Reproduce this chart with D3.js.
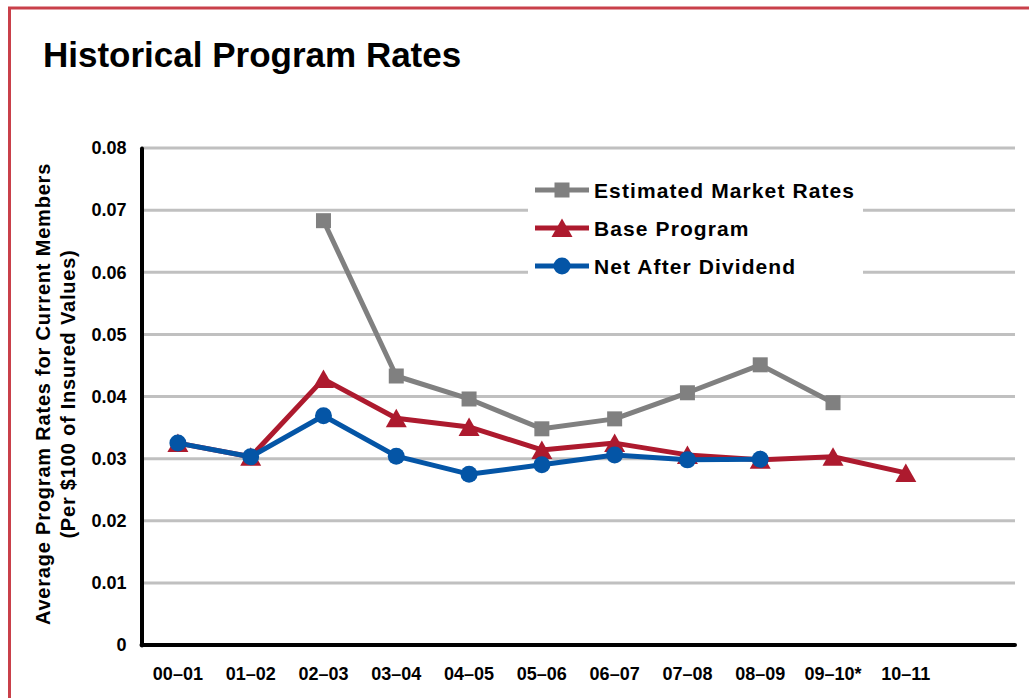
<!DOCTYPE html>
<html>
<head>
<meta charset="utf-8">
<script src="https://cdn.jsdelivr.net/npm/d3@7"></script>
<style>
  body { margin: 0; background: #fff; }
  svg { display: block; font-family: "Liberation Sans", Arial, sans-serif; }
</style>
</head>
<body>
<svg width="1029" height="698"></svg>
<script>
const categories = ["00–01", "01–02", "02–03", "03–04", "04–05", "05–06", "06–07", "07–08", "08–09", "09–10*", "10–11"]
const marketRates = [null, null, 0.0683, 0.0433, 0.0396, 0.0348, 0.0364, 0.0406, 0.0451, 0.0390, null]
const baseProgram = [0.0325, 0.0303, 0.0428, 0.0365, 0.0351, 0.0314, 0.0325, 0.0306, 0.0298, 0.0303, 0.0277]
const netAfterDividend = [0.0325, 0.0303, 0.0369, 0.0304, 0.0275, 0.0290, 0.0306, 0.0298, 0.0299, null, null]
const yTicks = [0, 0.01, 0.02, 0.03, 0.04, 0.05, 0.06, 0.07, 0.08]
const seriesNames = ["Estimated Market Rates", "Base Program", "Net After Dividend"]

const series = [
  { name: seriesNames[0], values: marketRates, color: "#808080", marker: "square" },
  { name: seriesNames[1], values: baseProgram, color: "#ad1a2e", marker: "triangle" },
  { name: seriesNames[2], values: netAfterDividend, color: "#0455a6", marker: "circle" }
]

const svg = d3.select("svg")
const plotLeft = 141.5, plotRight = 1015, plotTop = 148, plotBottom = 645
const step = (plotRight - plotLeft) / 12

const x = d3.scaleBand().domain(categories).range([plotLeft, plotLeft + step * categories.length])
const y = d3.scaleLinear().domain([0, 0.08]).range([plotBottom, plotTop])
const cx = d => x(d) + x.bandwidth() / 2

// red frame
svg.append("path")
  .attr("d", "M9.5,698 L9.5,8 L1029,8")
  .attr("fill", "none")
  .attr("stroke", "#c9404a")
  .attr("stroke-width", 3)

svg.append("text")
  .attr("x", 43).attr("y", 67)
  .attr("font-size", 35).attr("font-weight", "bold")
  .text("Historical Program Rates")

// gridlines
svg.append("g")
  .selectAll("line")
  .data(yTicks.filter(d => d > 0))
  .enter().append("line")
  .attr("x1", plotLeft).attr("x2", plotRight)
  .attr("y1", d => y(d)).attr("y2", d => y(d))
  .attr("stroke", "#c0c0c0")
  .attr("stroke-width", 3)

// y axis
const yAxis = svg.append("g")
  .attr("transform", "translate(" + plotLeft + ",0)")
  .call(d3.axisLeft(y).tickValues(yTicks).tickSize(0).tickPadding(15)
    .tickFormat(d => d === 0 ? "0" : d.toFixed(2)))
yAxis.select(".domain").attr("stroke", "#000").attr("stroke-width", 4).attr("stroke-linecap", "round")
yAxis.selectAll("text").attr("font-size", 18).attr("font-weight", "bold").attr("font-family", "Liberation Sans, Arial, sans-serif").attr("fill", "#000")

// x axis
svg.append("line")
  .attr("x1", plotLeft).attr("x2", plotRight)
  .attr("y1", plotBottom).attr("y2", plotBottom)
  .attr("stroke", "#000").attr("stroke-width", 4).attr("stroke-linecap", "round")

svg.append("g")
  .selectAll("text")
  .data(categories)
  .enter().append("text")
  .attr("x", d => cx(d))
  .attr("y", 680)
  .attr("text-anchor", "middle")
  .attr("font-size", 18).attr("font-weight", "bold")
  .text(d => d)

// y axis title
const yTitle = svg.append("text")
  .attr("transform", "translate(0,394) rotate(-90)")
  .attr("text-anchor", "middle")
  .attr("font-size", 20).attr("font-weight", "bold")
  .attr("letter-spacing", 0.8)
yTitle.append("tspan").attr("x", 0).attr("y", 50).text("Average Program Rates for Current Members")
yTitle.append("tspan").attr("x", 0).attr("y", 75).text("(Per $100 of Insured Values)")

function drawMarker(g, type, color) {
  if (type === "square") {
    g.append("rect").attr("x", -7.5).attr("y", -7.5).attr("width", 15).attr("height", 15).attr("fill", color)
  } else if (type === "triangle") {
    g.append("path").attr("d", "M0,-9.5 L10.5,9 L-10.5,9 Z").attr("fill", color)
  } else {
    g.append("circle").attr("r", 8.5).attr("fill", color)
  }
}

const line = d3.line()
  .defined(d => d.v != null)
  .x(d => cx(d.c))
  .y(d => y(d.v))

series.forEach(s => {
  const pts = categories.map((c, i) => ({ c: c, v: s.values[i] }))
  svg.append("path")
    .datum(pts)
    .attr("d", line)
    .attr("fill", "none")
    .attr("stroke", s.color)
    .attr("stroke-width", 5)
    .attr("stroke-linejoin", "round")
  pts.filter(d => d.v != null).forEach(d => {
    const g = svg.append("g").attr("transform", "translate(" + cx(d.c) + "," + y(d.v) + ")")
    drawMarker(g, s.marker, s.color)
  })
})

// legend
const legend = svg.append("g")
legend.append("rect")
  .attr("x", 528).attr("y", 168).attr("width", 335).attr("height", 118)
  .attr("fill", "#fff")
series.forEach((s, i) => {
  const ly = 190 + i * 38
  legend.append("line")
    .attr("x1", 535).attr("x2", 589).attr("y1", ly).attr("y2", ly)
    .attr("stroke", s.color).attr("stroke-width", 5)
  drawMarker(legend.append("g").attr("transform", "translate(562," + ly + ")"), s.marker, s.color)
  legend.append("text")
    .attr("x", 594).attr("y", ly + 7.5)
    .attr("font-size", 21).attr("font-weight", "bold")
    .attr("letter-spacing", 1.1)
    .text(s.name)
})
</script>
</body>
</html>
